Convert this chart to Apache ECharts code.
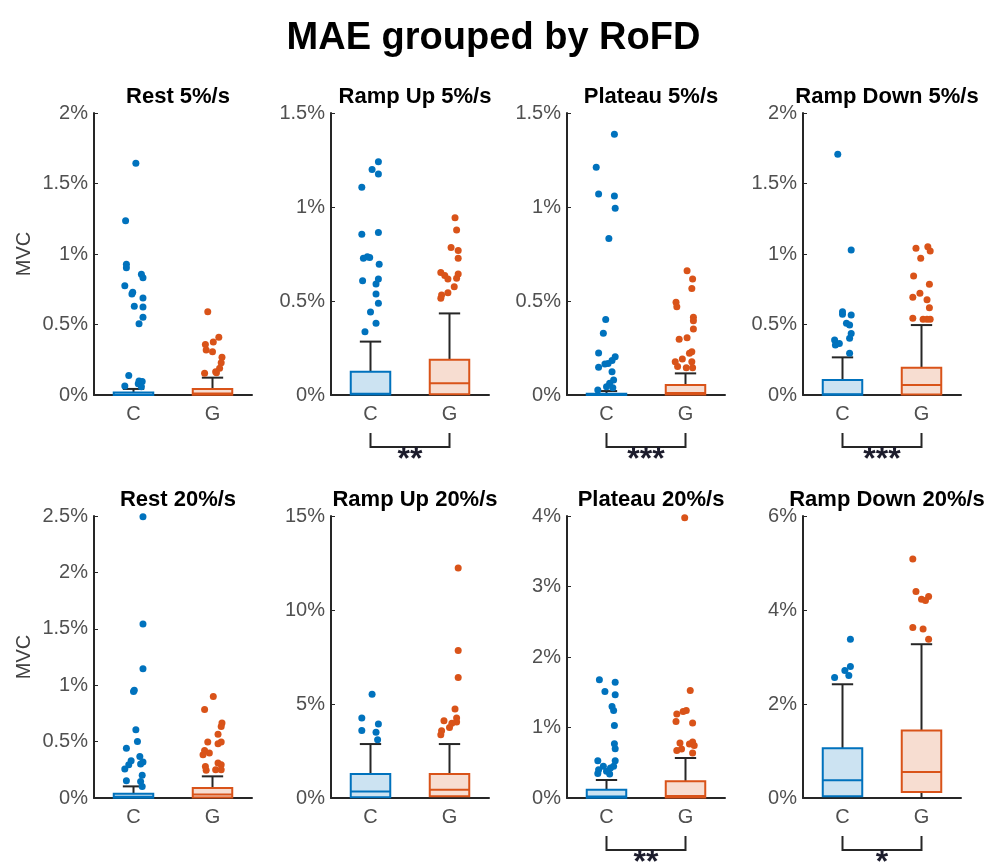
<!DOCTYPE html>
<html>
<head>
<meta charset="utf-8">
<script src="https://cdn.jsdelivr.net/npm/echarts@6/dist/echarts.min.js"></script>
<style>
  html, body { margin: 0; padding: 0; background: #fff; }
  #main { width: 987px; height: 864px; }
</style>
</head>
<body>
<div id="main"></div>
<script>
// 子图标题
var panelTitles = ['Rest 5%/s', 'Ramp Up 5%/s', 'Plateau 5%/s', 'Ramp Down 5%/s',
                   'Rest 20%/s', 'Ramp Up 20%/s', 'Plateau 20%/s', 'Ramp Down 20%/s'];
var groups = ['C', 'G'];
var yMax  = [2, 1.5, 1.5, 2, 2.5, 15, 4, 6];
var yStep = [0.5, 0.5, 0.5, 0.5, 0.5, 5, 1, 2];
var stars = ['', '**', '***', '***', '', '', '**', '*'];

// box stats: [lower whisker, q1, median, q3, upper whisker]  (% MVC)
var boxC = [
  [0, 0, 0.002, 0.017, 0.043],
  [0, 0.002, 0.006, 0.124, 0.284],
  [0, 0, 0.001, 0.007, 0.021],
  [0, 0.002, 0.006, 0.106, 0.267],
  [0, 0.003, 0.012, 0.038, 0.103],
  [0, 0.04, 0.35, 1.27, 2.87],
  [0, 0.004, 0.02, 0.118, 0.255],
  [0, 0.035, 0.38, 1.06, 2.42]
];
var boxG = [
  [0, 0.002, 0.01, 0.043, 0.123],
  [0, 0.004, 0.062, 0.188, 0.434],
  [0, 0.003, 0.01, 0.053, 0.115],
  [0, 0.004, 0.071, 0.194, 0.496],
  [0, 0.004, 0.03, 0.088, 0.192],
  [0, 0.09, 0.44, 1.27, 2.87],
  [0, 0.006, 0.03, 0.236, 0.567],
  [0, 0.127, 0.552, 1.438, 3.272]
];

// outliers: [jitter, value]
var rest5C = [[0.03,1.643],[-0.10,1.236],[-0.09,0.927],[-0.09,0.903],[0.10,0.856],[0.12,0.832],[-0.11,0.775],[-0.01,0.728],[-0.02,0.716],[0.12,0.688],[0.01,0.629],[0.12,0.624],[0.12,0.551],[0.07,0.506],[-0.06,0.139],[-0.11,0.064],[0.07,0.099],[0.11,0.095],[0.06,0.080],[0.10,0.059]];
var rest5G = [[-0.06,0.591],[0.08,0.409],[0.01,0.376],[-0.09,0.359],[-0.08,0.319],[0.0,0.307],[0.12,0.267],[0.11,0.229],[0.09,0.189],[0.04,0.165],[-0.10,0.154],[0.05,0.158]];
var up5C = [[0.10,1.241],[0.02,1.200],[0.10,1.176],[-0.11,1.105],[-0.11,0.855],[0.10,0.865],[-0.09,0.727],[-0.04,0.736],[-0.01,0.732],[0.11,0.695],[-0.10,0.608],[0.10,0.617],[0.07,0.590],[0.07,0.537],[0.10,0.488],[0.0,0.441],[0.07,0.381],[-0.07,0.337]];
var up5G = [[0.07,0.943],[0.09,0.878],[0.02,0.784],[0.11,0.768],[0.11,0.727],[-0.11,0.651],[-0.06,0.635],[-0.02,0.617],[0.11,0.644],[0.09,0.621],[0.06,0.576],[-0.02,0.544],[-0.10,0.532],[-0.11,0.514]];
var plat5C = [[0.10,1.387],[-0.13,1.211],[-0.10,1.069],[0.10,1.059],[0.11,0.993],[0.03,0.833],[-0.01,0.401],[-0.04,0.328],[-0.10,0.223],[0.11,0.204],[0.07,0.183],[-0.02,0.165],[0.02,0.168],[-0.10,0.147],[0.07,0.124],[0.09,0.080],[0.04,0.062],[0.0,0.044],[-0.11,0.027],[0.08,0.039]];
var plat5G = [[0.02,0.661],[0.09,0.617],[0.08,0.567],[-0.12,0.493],[-0.11,0.470],[0.10,0.413],[0.10,0.395],[0.10,0.351],[0.02,0.305],[-0.08,0.296],[0.08,0.230],[0.05,0.222],[-0.04,0.191],[-0.13,0.177],[0.08,0.177],[-0.10,0.151],[0.01,0.145],[0.09,0.145]];
var down5C = [[-0.06,1.707],[0.11,1.028],[0.0,0.591],[0.0,0.572],[0.11,0.567],[0.05,0.508],[0.09,0.496],[0.11,0.437],[0.09,0.402],[-0.10,0.390],[-0.09,0.355],[-0.04,0.366],[0.09,0.296]];
var down5G = [[-0.07,1.040],[0.08,1.052],[0.11,1.021],[-0.01,0.969],[-0.10,0.844],[0.10,0.785],[-0.11,0.693],[-0.02,0.721],[0.07,0.676],[0.10,0.619],[-0.11,0.544],[0.02,0.537],[0.07,0.537],[0.11,0.537]];
var rest20C = [[0.12,2.493],[0.12,1.543],[0.12,1.145],[0.0,0.944],[0.01,0.956],[0.03,0.605],[0.05,0.501],[-0.09,0.442],[0.08,0.369],[-0.03,0.330],[0.12,0.319],[0.09,0.301],[-0.06,0.295],[-0.11,0.257],[0.11,0.201],[-0.09,0.153],[0.09,0.147],[0.11,0.103]];
var rest20G = [[0.01,0.900],[-0.10,0.785],[0.12,0.664],[0.11,0.634],[0.07,0.566],[0.11,0.496],[-0.06,0.496],[0.07,0.481],[-0.10,0.422],[-0.04,0.398],[-0.12,0.383],[0.07,0.310],[0.11,0.295],[-0.09,0.280],[0.04,0.251],[0.11,0.251],[-0.08,0.245]];
var up20C = [[0.02,5.52],[-0.11,4.25],[0.10,3.93],[-0.11,3.59],[0.07,3.50],[0.09,3.10]];
var up20G = [[0.11,12.23],[0.11,7.84],[0.11,6.41],[0.07,4.73],[0.09,4.25],[-0.07,4.11],[0.09,4.04],[0.03,3.98],[0.0,3.75],[-0.10,3.58],[-0.11,3.36]];
var plat20C = [[-0.09,1.677],[0.11,1.643],[-0.02,1.511],[0.11,1.464],[0.07,1.299],[0.09,1.242],[0.10,1.030],[0.10,0.770],[0.11,0.699],[-0.11,0.529],[0.11,0.529],[-0.04,0.449],[-0.10,0.401],[0.05,0.425],[0.0,0.378],[0.09,0.449],[-0.11,0.349],[0.04,0.340]];
var plat20G = [[-0.01,3.976],[0.06,1.525],[0.01,1.242],[-0.03,1.228],[-0.11,1.190],[-0.12,1.086],[0.09,1.063],[-0.07,0.779],[0.09,0.793],[0.05,0.765],[-0.11,0.675],[-0.05,0.694],[0.09,0.638],[0.11,0.746]];
var down20C = [[0.10,3.378],[0.10,2.797],[0.03,2.712],[0.08,2.606],[-0.10,2.564]];
var down20G = [[-0.11,5.085],[-0.07,4.391],[0.0,4.228],[0.05,4.200],[0.09,4.285],[-0.11,3.626],[0.02,3.598],[0.09,3.378]];

var outC = [rest5C, up5C, plat5C, down5C, rest20C, up20C, plat20C, down20C];
var outG = [rest5G, up5G, plat5G, down5G, rest20G, up20G, plat20G, down20G];

var edgeColors = ['#0072BD', '#D95319'];
var fillColors = ['rgba(0,114,189,0.2)', 'rgba(217,83,25,0.2)'];
var axisColor = '#262626';
var fontFam = "'Liberation Sans', Arial, sans-serif";

var gridLeft = [94, 331, 567, 803];
var gridTop = [113, 516];

function renderBox(params, api) {
	var x = api.value(0);
	var lo = api.coord([x, api.value(1)]);
	var q1 = api.coord([x, api.value(2)]);
	var med = api.coord([x, api.value(3)]);
	var q3 = api.coord([x, api.value(4)]);
	var hi = api.coord([x, api.value(5)]);
	var half = api.size([0.25, 0])[0];
	var cap = api.size([0.135, 0])[0];
	var c = params.dataIndex;
	var black = { stroke: axisColor, lineWidth: 2 };
	return {
		type: 'group',
		children: [
			{ type: 'line', shape: { x1: hi[0], y1: hi[1], x2: q3[0], y2: q3[1] }, style: black },
			{ type: 'line', shape: { x1: hi[0] - cap, y1: hi[1], x2: hi[0] + cap, y2: hi[1] }, style: black },
			{ type: 'line', shape: { x1: lo[0], y1: lo[1], x2: q1[0], y2: q1[1] }, style: black },
			{ type: 'line', shape: { x1: lo[0] - cap, y1: lo[1], x2: lo[0] + cap, y2: lo[1] }, style: black },
			{ type: 'rect', shape: { x: q3[0] - half, y: q3[1], width: half * 2, height: q1[1] - q3[1] },
			  style: { fill: fillColors[c], stroke: edgeColors[c], lineWidth: 2 } },
			{ type: 'line', shape: { x1: med[0] - half, y1: med[1], x2: med[0] + half, y2: med[1] },
			  style: { stroke: edgeColors[c], lineWidth: 2 } }
		]
	};
}

function makeBracket(label) {
	return function (params, api) {
		var a = api.coord([1, 0]);
		var b = api.coord([2, 0]);
		var y0 = a[1] + 38, y1 = a[1] + 52;
		return {
			type: 'group',
			children: [
				{ type: 'polyline', shape: { points: [[a[0], y0], [a[0], y1], [b[0], y1], [b[0], y0]] },
				  style: { stroke: axisColor, lineWidth: 2, fill: 'none' } },
				{ type: 'text', x: (a[0] + b[0]) / 2, y: y1 + 13,
				  style: { text: label, fill: '#1c1c2c', font: 'bold 32px ' + fontFam, align: 'center', verticalAlign: 'middle' } }
			]
		};
	};
}

function buildOption() {
	var titles = [{
		text: 'MAE grouped by RoFD',
		left: 'center', top: 15,
		textStyle: { fontSize: 38, fontWeight: 'bold', color: '#000', fontFamily: fontFam }
	}];
	var grids = [], xAxes = [], yAxes = [], series = [];

	for (var i = 0; i < 8; i++) {
		var col = i % 4, row = Math.floor(i / 4);
		var gx = gridLeft[col], gy = gridTop[row];
		grids.push({ left: gx, top: gy, width: 158, height: 282 });
		titles.push({
			text: panelTitles[i], left: gx + 79, top: gy - 32, textAlign: 'center',
			textStyle: { fontSize: 22, fontWeight: 'bold', color: '#000', fontFamily: fontFam }
		});
		xAxes.push({
			type: 'value', gridIndex: i, min: 0.5, max: 2.5, interval: 0.5,
			axisLine: { lineStyle: { color: axisColor, width: 2 } },
			axisTick: { show: false },
			splitLine: { show: false },
			axisLabel: {
				margin: 9, fontSize: 20, color: '#505050', fontFamily: fontFam,
				formatter: function (v) { return v === 1 ? groups[0] : (v === 2 ? groups[1] : ''); }
			}
		});
		yAxes.push({
			type: 'value', gridIndex: i, min: 0, max: yMax[i], interval: yStep[i],
			name: col === 0 ? 'MVC' : '', nameLocation: 'middle', nameGap: 60,
			nameTextStyle: { fontSize: 20, color: '#404040', fontFamily: fontFam },
			axisLine: { show: true, lineStyle: { color: axisColor, width: 2 } },
			axisTick: { show: true, inside: true, length: 4, lineStyle: { color: axisColor } },
			splitLine: { show: false },
			axisLabel: {
				margin: 6, fontSize: 20, color: '#505050', fontFamily: fontFam,
				formatter: function (v) { return v + '%'; }
			}
		});
		series.push({
			type: 'custom', xAxisIndex: i, yAxisIndex: i,
			renderItem: renderBox,
			encode: { x: 0, y: [1, 2, 3, 4, 5] },
			data: [[1].concat(boxC[i]), [2].concat(boxG[i])],
			silent: true
		});
		[outC[i], outG[i]].forEach(function (pts, g) {
			series.push({
				type: 'scatter', xAxisIndex: i, yAxisIndex: i,
				symbolSize: 7, itemStyle: { color: edgeColors[g], opacity: 1 },
				data: pts.map(function (p) { return [g + 1 + p[0], p[1]]; }),
				silent: true, z: 3
			});
		});
		if (stars[i]) {
			series.push({
				type: 'custom', xAxisIndex: i, yAxisIndex: i,
				renderItem: makeBracket(stars[i]),
				data: [[1.5, 0]], silent: true, clip: false
			});
		}
	}
	return {
		animation: false,
		backgroundColor: '#fff',
		title: titles,
		grid: grids,
		xAxis: xAxes,
		yAxis: yAxes,
		series: series
	};
}

var myChart = echarts.init(document.getElementById('main'));
myChart.setOption(buildOption());
</script>
</body>
</html>
